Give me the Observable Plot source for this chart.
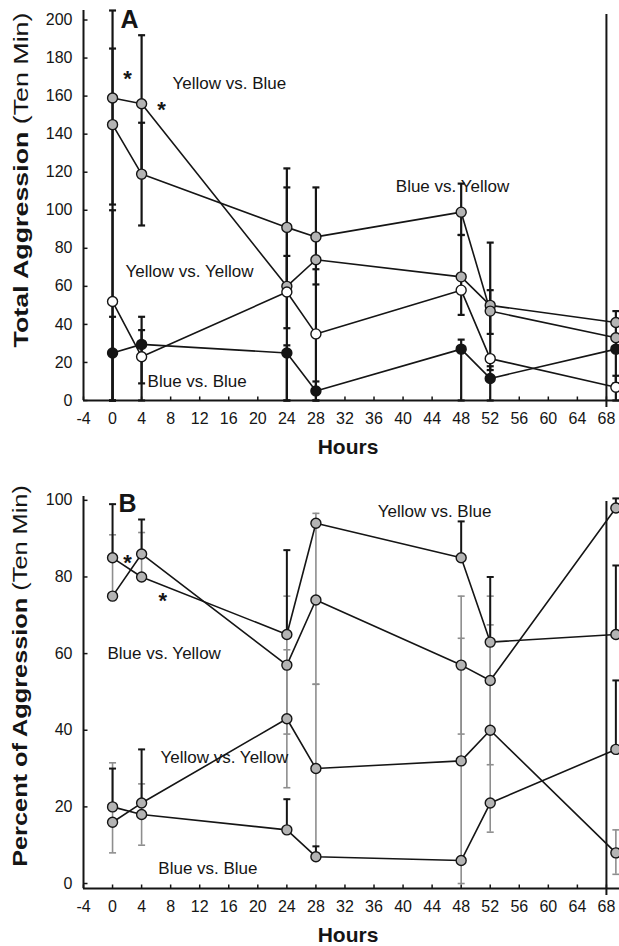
<!DOCTYPE html>
<html><head><meta charset="utf-8">
<script src="https://cdn.jsdelivr.net/npm/d3@7"></script>
<script src="https://cdn.jsdelivr.net/npm/@observablehq/plot@0.6"></script>
<style>
body{margin:0;background:#fff;}
#chart svg{display:block;overflow:visible;}
#chart{width:619px;overflow:hidden;}
</style></head><body><div id="chart"></div>
<script>
// ---------- shared ----------
const hours = [0, 4, 24, 28, 48, 52, 69.3];
const breakHour = [68];
const xTicks = [-4, 0, 4, 8, 12, 16, 20, 24, 28, 32, 36, 40, 44, 48, 52, 56, 60, 64, 68];

// ---------- Panel A: Total Aggression (Ten Min) ----------
const aYTicks = [0, 20, 40, 60, 80, 100, 120, 140, 160, 180, 200];
const aYellowVsBlue   = [159, 156, 60, 74, 65, 50, 41];
const aBlueVsYellow   = [145, 119, 91, 86, 99, 47, 33];
const aYellowVsYellow = [52, 23, 57, 35, 58, 22, 7];
const aBlueVsBlue     = [25, 29.5, 25, 5, 27, 11.6, 27];
const aErrHour = [0, 0, 0, 0, 4, 4, 4, 4, 24, 24, 24, 24, 28, 28, 28, 48, 48, 48, 52, 52, 52, 69.3, 69.3];
const aErrLo   = [103, 0, 0, 0, 120, 92, 0, 9, 60, 0, 38, 0, 61, 0, 0, 87, 45, 0, 16, 35, 0, 0, 9];
const aErrHi   = [185, 205, 100, 44, 192, 146, 44, 37, 122, 112, 76, 29, 112, 69, 10, 114, 87, 32, 83, 58, 18, 47, 13];
const aLabelText  = ["Yellow vs. Blue", "Blue vs. Yellow", "Yellow vs. Yellow", "Blue vs. Blue"];
const aLabelHour  = [8.26, 39.0, 1.79, 4.82];
const aLabelValue = [166.7, 112.5, 67.8, 10.0];
const aStarHour  = [2.06, 6.74];
const aStarValue = [168.9, 152.6];

// ---------- Panel B: Percent of Aggression (Ten Min) ----------
const bYTicks = [0, 20, 40, 60, 80, 100];
const bYellowVsBlue   = [85, 80, 65, 94, 85, 63, 65];
const bBlueVsYellow   = [75, 86, 57, 74, 57, 53, 98];
const bYellowVsYellow = [16, 21, 43, 30, 32, 40, 8];
const bBlueVsBlue     = [20, 18, 14, 7, 6, 21, 35];
const bErrHour = [0, 0, 0, 0, 4, 4, 4, 4, 24, 24, 24, 24, 28, 28, 28, 48, 48, 48, 52, 52, 52, 69.3, 69.3, 69.3, 69.3];
const bErrLo   = [85, 75, 20, 8, 86, 80, 21, 10, 65, 39, 25, 14, 52, 8, 7, 85, 39, 0, 63, 31, 13.4, 98, 65, 35, 2.4];
const bErrHi   = [99, 91, 30, 31.5, 95, 91.6, 35, 26, 87, 75, 61, 22, 96.6, 52, 9.7, 94.5, 75, 64, 80, 75, 67.5, 100.5, 83, 53, 14];
const bErrKind = ["sd","se","sd","se","sd","se","sd","se","sd","se","se","sd","se","se","sd","sd","se","se","sd","se","se","sd","sd","sd","se"];
const bLabelText  = ["Yellow vs. Blue", "Blue vs. Yellow", "Yellow vs. Yellow", "Blue vs. Blue"];
const bLabelHour  = [36.5, -0.7, 6.6, 6.3];
const bLabelValue = [97.1, 60.1, 32.9, 3.9];
const bStarHour  = [2.06, 6.9];
const bStarValue = [83.6, 73.7];

// ---------- drawing ----------
const W = 619;
const xDomain = [-4, 69.8];
const FONT = "'Liberation Sans', Arial, Helvetica, sans-serif";
const INK = "#151515";
const GRAY = "#b4b4b4";
const LIGHT = "#8e8e8e";

const capSym   = {draw(c, s){ const r = Math.sqrt(s / Math.PI); c.moveTo(-r, 0); c.lineTo(r, 0); }};
const yTickSym = {draw(c, s){ const r = Math.sqrt(s / Math.PI); c.moveTo(0, 0); c.lineTo(r, 0); }};
const xTickSym = {draw(c, s){ const r = Math.sqrt(s / Math.PI); c.moveTo(0, 0); c.lineTo(0, -r); }};

const rows = (vals, name) => hours.map((h, i) => ({hour: h, value: vals[i], series: name}));

function makePanel(cfg) {
  const errs = cfg.errHour.map((h, i) => ({hour: h, lo: cfg.errLo[i], hi: cfg.errHi[i], kind: cfg.errKind ? cfg.errKind[i] : "sd"}));
  const y0 = cfg.yDomain[0];
  const marks = [];
  // axis break line
  marks.push(Plot.ruleX(breakHour, {stroke: INK, strokeWidth: 2, insetTop: cfg.breakTop, insetBottom: -7}));
  // error bars
  for (const kind of ["se", "sd"]) {
    const d = errs.filter(e => e.kind === kind);
    const col = kind === "sd" ? INK : LIGHT;
    const sw = kind === "sd" ? cfg.errWidth : 1.6;
    marks.push(Plot.ruleX(d, {x: "hour", y1: "lo", y2: "hi", stroke: col, strokeWidth: sw}));
    marks.push(Plot.dot(d, {x: "hour", y: "hi", symbol: capSym, r: 3.5, stroke: col, strokeWidth: sw, fill: "none"}));
    marks.push(Plot.dot(d, {x: "hour", y: "lo", symbol: capSym, r: 3.5, stroke: col, strokeWidth: sw, fill: "none"}));
  }
  // series lines and markers
  for (const s of cfg.series) {
    const d = rows(s.values, s.name);
    marks.push(Plot.line(d, {x: "hour", y: "value", stroke: INK, strokeWidth: 1.6}));
  }
  for (const s of cfg.series) {
    const d = rows(s.values, s.name);
    marks.push(Plot.dot(d, {x: "hour", y: "value", r: 5, fill: s.fill, stroke: INK, strokeWidth: 1.4}));
  }
  // axis lines
  marks.push(Plot.ruleX([xDomain[0]], {stroke: INK, strokeWidth: 2}));
  marks.push(Plot.ruleY([y0], {stroke: INK, strokeWidth: 2}));
  // inward ticks
  marks.push(Plot.dot(xTicks, {x: d => d, y: () => y0, symbol: xTickSym, r: 4, stroke: INK, strokeWidth: 1.5, fill: "none"}));
  marks.push(Plot.dot(cfg.yTicks, {x: () => xDomain[0], y: d => d, symbol: yTickSym, r: 4, stroke: INK, strokeWidth: 1.5, fill: "none"}));
  // tick labels (plain hyphen minus as in the reference)
  marks.push(Plot.axisX(xTicks, {tickSize: 0, tickPadding: 12, fontSize: 16, label: null, tickFormat: d => String(d)}));
  marks.push(Plot.axisY(cfg.yTicks, {tickSize: 0, tickPadding: 11, fontSize: 16, label: null, tickFormat: d => String(d)}));
  // annotations
  const labels = cfg.labelText.map((t, i) => ({t, x: cfg.labelHour[i], y: cfg.labelValue[i]}));
  marks.push(Plot.text(labels, {x: "x", y: "y", text: "t", textAnchor: "start", fontSize: 17, fill: INK}));
  const stars = cfg.starHour.map((h, i) => ({x: h, y: cfg.starValue[i]}));
  marks.push(Plot.text(stars, {x: "x", y: "y", text: () => "*", fontSize: 22, fontWeight: "bold", fill: INK}));
  marks.push(Plot.text([cfg.letter], {x: () => cfg.letterHour, y: () => cfg.letterValue, text: d => d, textAnchor: "start", fontSize: 25, fontWeight: "bold", fill: INK}));

  const svg = Plot.plot({
    width: W, height: cfg.height,
    marginLeft: 83, marginRight: 0, marginTop: cfg.marginTop, marginBottom: cfg.marginBottom,
    x: {domain: xDomain}, y: {domain: cfg.yDomain},
    style: {fontFamily: FONT, color: INK, background: "white", overflow: "visible"},
    marks
  });
  document.getElementById("chart").appendChild(svg);

  const sel = d3.select(svg);
  // y title: bold part + normal part, rotated
  const t = sel.append("text").attr("font-family", FONT).attr("font-size", 21).attr("fill", INK).attr("text-anchor", "middle");
  t.append("tspan").attr("font-weight", "bold").text(cfg.titleBold);
  t.append("tspan").text(cfg.titleNormal);
  const len = t.node().getComputedTextLength();
  t.attr("transform", `translate(${cfg.titleX},${cfg.titleY}) rotate(-90) scale(${cfg.titleLen / len},1)`);
  // x title
  sel.append("text").attr("font-family", FONT).attr("font-size", 21).attr("font-weight", "bold").attr("fill", INK)
    .attr("text-anchor", "middle").attr("x", 348).attr("y", cfg.hoursY).text("Hours");
}

makePanel({
  height: 460, marginTop: 10, marginBottom: 60, yDomain: [0, 205], yTicks: aYTicks, breakTop: 4, errWidth: 2.2,
  series: [
    {name: "Yellow vs. Blue", values: aYellowVsBlue, fill: GRAY},
    {name: "Blue vs. Yellow", values: aBlueVsYellow, fill: GRAY},
    {name: "Yellow vs. Yellow", values: aYellowVsYellow, fill: "white"},
    {name: "Blue vs. Blue", values: aBlueVsBlue, fill: INK}
  ],
  errHour: aErrHour, errLo: aErrLo, errHi: aErrHi,
  labelText: aLabelText, labelHour: aLabelHour, labelValue: aLabelValue,
  starHour: aStarHour, starValue: aStarValue,
  letter: "A", letterHour: 1.1, letterValue: 199.8,
  titleBold: "Total Aggression ", titleNormal: "(Ten Min)", titleX: 28, titleY: 180, titleLen: 335, hoursY: 454
});

makePanel({
  height: 486, marginTop: 36, marginBottom: 58, yDomain: [-1.3, 101], yTicks: bYTicks, breakTop: 5, errWidth: 2,
  series: [
    {name: "Yellow vs. Blue", values: bYellowVsBlue, fill: GRAY},
    {name: "Blue vs. Yellow", values: bBlueVsYellow, fill: GRAY},
    {name: "Yellow vs. Yellow", values: bYellowVsYellow, fill: GRAY},
    {name: "Blue vs. Blue", values: bBlueVsBlue, fill: GRAY}
  ],
  errHour: bErrHour, errLo: bErrLo, errHi: bErrHi, errKind: bErrKind,
  labelText: bLabelText, labelHour: bLabelHour, labelValue: bLabelValue,
  starHour: bStarHour, starValue: bStarValue,
  letter: "B", letterHour: 0.82, letterValue: 99.0,
  titleBold: "Percent of Aggression ", titleNormal: "(Ten Min)", titleX: 27, titleY: 216, titleLen: 382, hoursY: 482
});
</script>
</body></html>
